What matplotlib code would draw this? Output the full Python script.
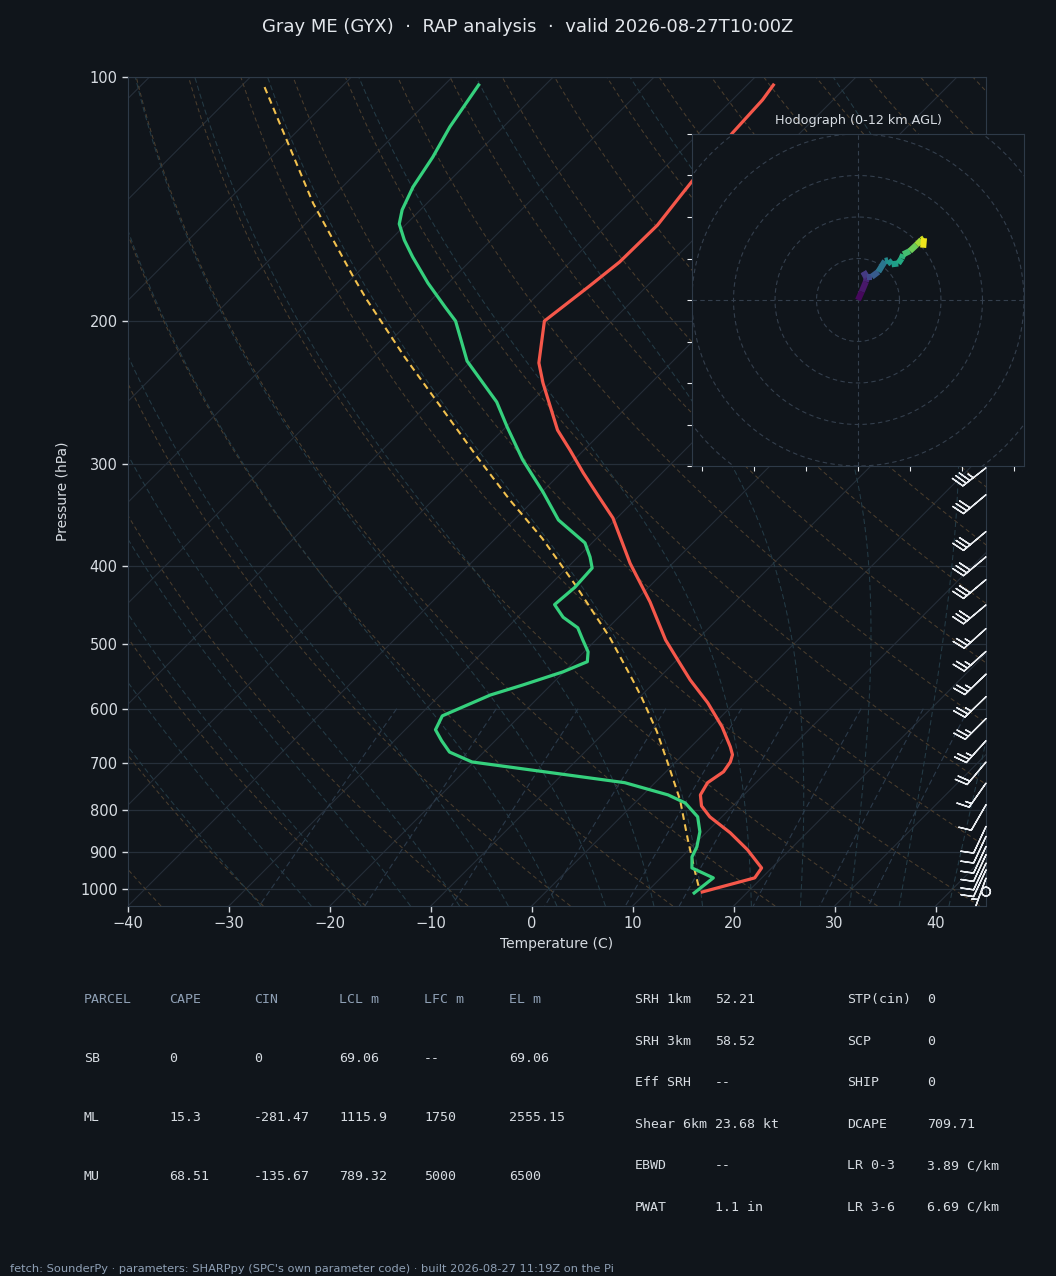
import numpy as np
import matplotlib
matplotlib.use('Agg')
from matplotlib import pyplot as plt
from matplotlib import transforms
from matplotlib.collections import LineCollection

BG = '#10151b'
FG = '#d7dce2'
DIM = '#8fa0b5'
SPINE = '#2e3a48'

# temperature profile (hPa, C)
pres_t = [102.3, 106.7, 117.2, 134.7, 140.5, 152.2, 169.0, 180.9, 199.8, 225.0, 238.2, 272.2, 288.0,
          307.4, 327.2, 349.3, 397.3, 443.3, 493.7, 522.6, 553.0, 590.0, 631.6, 668.5, 683.7, 697.8,
          717.5, 740.1, 766.2, 790.5, 815.3, 853.0, 895.2, 942.6, 969.5, 1009.0]
temp_c = [-57.4, -57.0, -56.7, -55.9, -55.6, -55.0, -55.1, -55.7, -56.7, -53.1, -50.7, -44.6, -41.4,
          -37.8, -34.2, -30.4, -24.2, -18.4, -13.1, -9.9, -6.7, -2.7, 1.1, 3.9, 4.9, 5.4,
          5.7, 5.2, 5.7, 6.9, 8.8, 12.4, 15.8, 19.0, 19.3, 15.5]

# dewpoint profile
pres_td = [102.3, 115.2, 125.5, 136.6, 145.8, 151.7, 158.8, 166.6, 179.4, 192.1, 199.8, 223.8, 251.4,
           269.8, 296.2, 324.5, 351.3, 374.9, 390.2, 402.6, 425.2, 446.6, 462.9, 477.0, 493.7, 510.6,
           525.1, 540.4, 561.1, 577.1, 612.3, 636.9, 657.1, 678.5, 697.8, 740.1, 766.2, 783.9, 815.3,
           850.6, 888.0, 913.2, 942.6, 969.5, 1012.0]
dewp_c = [-86.6, -85.3, -84.0, -83.0, -81.8, -80.7, -78.6, -76.1, -72.0, -67.9, -65.5, -60.4, -53.4,
          -49.9, -45.1, -39.9, -35.6, -30.7, -28.8, -27.5, -27.3, -27.6, -25.5, -23.0, -21.3, -19.6,
          -18.7, -20.1, -22.8, -25.0, -27.7, -27.0, -25.3, -23.4, -20.2, -3.0, 2.5, 5.0, 7.6,
          9.3, 10.5, 11.0, 12.1, 15.2, 14.8]

# surface parcel trace
pres_parcel = [102.9, 143.0, 176.3, 188.1, 221.2, 293.8, 331.9, 370.0, 422.3, 490.0, 553.0, 582.0,
               640.0, 699.8, 777.5, 870.1, 955.4, 1005.0]
parcel_c = [-107.6, -91.3, -80.0, -76.4, -67.0, -49.9, -42.4, -35.4, -27.5, -18.9, -12.4, -9.7,
            -4.9, -0.7, 4.2, 8.9, 12.9, 15.1]

# wind barbs (hPa, kt, deg)
barb_p = [303, 327, 363, 390, 416, 447, 478, 510, 544, 580, 617, 657, 698, 741, 788, 838, 862,
          887, 908, 930, 948, 970, 1008]
barb_spd = [35, 30, 30, 30, 30, 30, 25, 25, 25, 25, 25, 25, 20, 15, 10, 10, 10, 10, 10, 10, 10, 5, 0]
barb_dir = [232, 230, 230, 230, 230, 230, 228, 228, 226, 226, 225, 222, 220, 215, 210, 205, 205,
            205, 205, 205, 205, 200, 0]

# hodograph (kt) and height (km AGL)
hodo_u = [0, 0.9, 1.9, 2.1, 1.3, 2.1, 3.3, 4.9, 6.5, 7.3, 8.1, 9.7, 10.5, 10.9, 12.5, 14.1, 15.3, 15.9, 15.7]
hodo_v = [0, 2.0, 4.4, 5.2, 6.8, 5.6, 5.6, 6.8, 9.4, 9.6, 8.6, 8.8, 10.0, 11.0, 11.8, 13.3, 14.5, 14.9, 12.6]
hodo_z = [0, 0.5, 1.0, 1.3, 1.8, 2.3, 3.0, 3.8, 5.5, 5.9, 6.4, 7.0, 7.5, 8.0, 8.8, 9.8, 10.8, 11.4, 12.0]

parcel_header = ['PARCEL', 'CAPE', 'CIN', 'LCL m', 'LFC m', 'EL m']
parcel_rows = [['SB', '0', '0', '69.06', '--', '69.06'],
               ['ML', '15.3', '-281.47', '1115.9', '1750', '2555.15'],
               ['MU', '68.51', '-135.67', '789.32', '5000', '6500']]
index_a = [('SRH 1km', '52.21'), ('SRH 3km', '58.52'), ('Eff SRH', '--'),
           ('Shear 6km', '23.68 kt'), ('EBWD', '--'), ('PWAT', '1.1 in')]
index_b = [('STP(cin)', '0'), ('SCP', '0'), ('SHIP', '0'),
           ('DCAPE', '709.71'), ('LR 0-3', '3.89 C/km'), ('LR 3-6', '6.69 C/km')]

W, H = 1056, 1276
P_BOT, P_TOP = 1050., 100.
T_MIN, T_MAX = -40., 45.
ax_px = (128, 77, 986, 906)  # left, top, right, bottom
# 45 deg skew in display space
K = ((ax_px[3] - ax_px[1]) / np.log(P_BOT / P_TOP)) / ((ax_px[2] - ax_px[0]) / (T_MAX - T_MIN))


def skew(t, p):
    return np.asarray(t) + K * np.log(P_BOT / np.asarray(p, dtype=float))


def moist_adiabats(t0c, pres):
    # RK4 from 1000 hPa along pres (must start at 1000)
    Rd, cp, Lv, eps = 287.04, 1005.7, 2.501e6, 0.622

    def f(T, p):
        es = 6.112 * np.exp(17.67 * (T - 273.15) / (T - 29.65))
        rs = eps * es / (p - es)
        return (Rd * T + Lv * rs) / p / (cp + Lv * Lv * rs * eps / (Rd * T * T))
    T = np.asarray(t0c, dtype=float) + 273.15
    out = [T.copy()]
    for i in range(1, len(pres)):
        p, h = pres[i - 1], pres[i] - pres[i - 1]
        k1 = f(T, p)
        k2 = f(T + h * k1 / 2, p + h / 2)
        k3 = f(T + h * k2 / 2, p + h / 2)
        k4 = f(T + h * k3, p + h)
        T = T + h * (k1 + 2 * k2 + 2 * k3 + k4) / 6
        out.append(T.copy())
    return np.array(out) - 273.15


plt.rcParams['font.family'] = 'DejaVu Sans'
fig = plt.figure(figsize=(W / 100, H / 100), dpi=100, facecolor=BG)
ax = fig.add_axes([ax_px[0] / W, 1 - ax_px[3] / H, (ax_px[2] - ax_px[0]) / W, (ax_px[3] - ax_px[1]) / H],
                  facecolor=BG)
ax.set_yscale('log')
ax.set_ylim(P_BOT, P_TOP)
ax.set_xlim(T_MIN, T_MAX)

# background lines
pp = np.geomspace(P_BOT, P_TOP, 200)
for t in range(-130, 50, 10):
    ax.plot(skew([t, t], [P_BOT, P_TOP]), [P_BOT, P_TOP], color='#252e39', lw=0.8, zorder=1)
for p in range(100, 1001, 100):
    ax.axhline(p, color='#262f3a', lw=0.9, zorder=1)
for t0 in range(-40, 201, 10):
    tt = (t0 + 273.15) * (pp / 1000.) ** 0.2857 - 273.15
    ax.plot(skew(tt, pp), pp, color='#4a3d2d', lw=0.75, ls=(0, (4, 3)), zorder=1)
m_t0 = np.arange(-30, 45.1, 5)
p_up = np.linspace(1000, 100, 181)
p_dn = np.linspace(1000, 1050, 11)
up = moist_adiabats(m_t0, p_up)
dn = moist_adiabats(m_t0, p_dn)
for i in range(len(m_t0)):
    ps = np.concatenate([p_dn[::-1], p_up[1:]])
    ts = np.concatenate([dn[::-1, i], up[1:, i]])
    ax.plot(skew(ts, ps), ps, color='#243b46', lw=0.75, ls=(0, (5, 3)), zorder=1)
pm = np.linspace(600, 1050, 30)
for w in [0.4, 1, 2, 4, 7, 10, 16, 24, 32]:
    e = pm * w / (622. + w)
    td = 243.5 * np.log(e / 6.112) / (17.67 - np.log(e / 6.112))
    ax.plot(skew(td, pm), pm, color='#2b3a4a', lw=0.8, ls=(0, (5, 3)), zorder=1)

# profiles
ax.plot(skew(parcel_c, pres_parcel), pres_parcel, color='#f2c14e', lw=1.5, ls=(0, (3.2, 2.2)), zorder=4)
ax.plot(skew(temp_c, pres_t), pres_t, color='#f5574a', lw=2.3, zorder=5)
ax.plot(skew(dewp_c, pres_td), pres_td, color='#35d07d', lw=2.3, zorder=5)

# barbs along right edge
wd = np.radians(barb_dir)
bu = -np.array(barb_spd) * np.sin(wd)
bv = -np.array(barb_spd) * np.cos(wd)
trans = transforms.blended_transform_factory(ax.transAxes, ax.transData)
ax.barbs(np.ones(len(barb_p)), barb_p, bu, bv, transform=trans, length=6.5, color='#e8ebef',
         lw=1.0, clip_on=False, zorder=6, sizes=dict(spacing=0.15, height=0.42))

ax.set_xticks(range(-40, 41, 10))
ax.set_yticks(range(100, 1001, 100))
ax.set_yticklabels([str(p) for p in range(100, 1001, 100)])
ax.yaxis.set_minor_locator(matplotlib.ticker.NullLocator())
ax.tick_params(colors=FG, labelsize=10.5, length=4, width=1)
for s in ax.spines.values():
    s.set_color(SPINE)
ax.set_xlabel('Temperature (C)', color=FG, fontsize=10)
ax.set_ylabel('Pressure (hPa)', color=FG, fontsize=10, labelpad=8)

fig.text(0.5, 1 - 27 / H, 'Gray ME (GYX)  \u00b7  RAP analysis  \u00b7  valid 2026-08-27T10:00Z',
         ha='center', va='center', color='#e3e7ec', fontsize=13)

# hodograph inset
hx = fig.add_axes([692 / W, 1 - 466 / H, 332 / W, 332 / H], facecolor=BG)
hx.set_xlim(-40, 40)
hx.set_ylim(-40, 40)
th = np.linspace(0, 2 * np.pi, 300)
for r in range(10, 61, 10):
    hx.plot(r * np.cos(th), r * np.sin(th), color='#343f4d', lw=0.8, ls=(0, (4, 3)))
hx.axhline(0, color='#343f4d', lw=0.8, ls=(0, (4, 3)))
hx.axvline(0, color='#343f4d', lw=0.8, ls=(0, (4, 3)))
pts = np.column_stack([hodo_u, hodo_v])
segs = np.stack([pts[:-1], pts[1:]], axis=1)
zmid = (np.array(hodo_z[:-1]) + np.array(hodo_z[1:])) / 2
lc = LineCollection(segs, cmap='viridis', linewidths=4.4)
lc.set_array(zmid)
lc.set_clim(0, 12)
hx.add_collection(lc)
hx.set_xticks([-37.5, -25, -12.5, 0, 12.5, 25, 37.5])
hx.set_yticks(range(-40, 41, 10))
hx.tick_params(labelleft=False, labelbottom=False, colors='#e8ebef', length=3.5)
for s in hx.spines.values():
    s.set_color(SPINE)
hx.set_title('Hodograph (0-12 km AGL)', color=FG, fontsize=9.2, pad=7)

# parameter tables
mono = 'DejaVu Sans Mono'
cols = [84, 169, 254, 339, 424, 509]
for j, h in enumerate(parcel_header):
    fig.text(cols[j] / W, 1 - 999.7 / H, h, color=DIM, family=mono, fontsize=9.5, va='center')
for i, row in enumerate(parcel_rows):
    for j, val in enumerate(row):
        fig.text(cols[j] / W, 1 - (1058.5 + i * 59) / H, val, color=FG, family=mono, fontsize=9.5,
                 va='center')
for i, (name, val) in enumerate(index_a):
    y = 1 - (999.7 + i * 41.5) / H
    fig.text(634.7 / W, y, name, color=FG, family=mono, fontsize=9.5, va='center')
    fig.text(714.7 / W, y, val, color=FG, family=mono, fontsize=9.5, va='center')
for i, (name, val) in enumerate(index_b):
    y = 1 - (999.7 + i * 41.5) / H
    fig.text(847 / W, y, name, color=FG, family=mono, fontsize=9.5, va='center')
    fig.text(927 / W, y, val, color=FG, family=mono, fontsize=9.5, va='center')

fig.text(10 / W, 1 - 1269 / H,
         "fetch: SounderPy \u00b7 parameters: SHARPpy (SPC's own parameter code) \u00b7 built 2026-08-27 11:19Z on the Pi",
         color=DIM, fontsize=8.2, va='center')

fig.savefig('out.png', dpi=100, facecolor=BG)
